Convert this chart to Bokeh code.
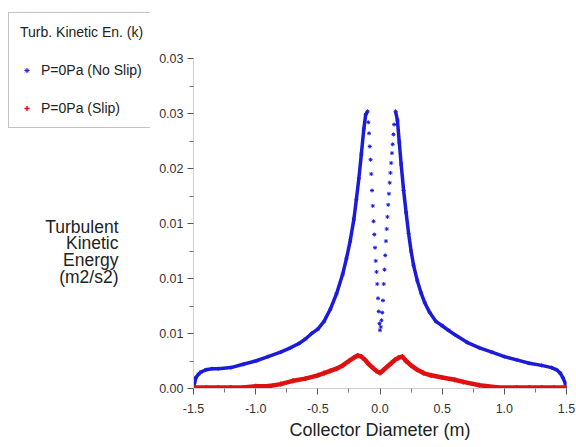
from bokeh.plotting import figure
from bokeh.layouts import row
from bokeh.models import FixedTicker, Legend, LegendItem, Label, Range1d
from bokeh.embed import file_html
from bokeh.resources import INLINE

# ---------------- data ----------------
x_ticks = [-1.5, -1.0, -0.5, 0.0, 0.5, 1.0, 1.5]
x_tick_labels = ["-1.5", "-1.0", "-0.5", "0.0", "0.5", "1.0", "1.5"]
y_ticks = [0.0, 0.005, 0.01, 0.015, 0.02, 0.025, 0.03]
y_tick_labels = ["0.00", "0.01", "0.01", "0.01", "0.02", "0.03", "0.03"]

# No slip (blue): outer left branch, inner dip, outer right branch
noslip_left_x = [-1.5, -1.49, -1.48, -1.46, -1.44, -1.40, -1.35, -1.30, -1.2, -1.1, -1.0,
                 -0.9, -0.8, -0.72, -0.65, -0.6, -0.55, -0.5, -0.45, -0.40, -0.35, -0.30,
                 -0.27, -0.24, -0.21, -0.19, -0.17, -0.15, -0.13, -0.115, -0.10]
noslip_left_y = [0.0, 0.0006, 0.0010, 0.0013, 0.0015, 0.0017, 0.0018, 0.0018, 0.0019, 0.0022, 0.0025,
                 0.0029, 0.0033, 0.0037, 0.0041, 0.0045, 0.0050, 0.0054, 0.0061, 0.0072, 0.0086, 0.0104,
                 0.0118, 0.0134, 0.0154, 0.0172, 0.0191, 0.0213, 0.0236, 0.0249, 0.0252]
noslip_inner_x = [-0.094, -0.088, -0.082, -0.076, -0.070, -0.064, -0.058, -0.052, -0.046, -0.040,
                  -0.034, -0.028, -0.022, -0.016, -0.010, -0.004, 0.0, 0.006, 0.012, 0.018, 0.024,
                  0.030, 0.036, 0.042, 0.048, 0.054, 0.060, 0.066, 0.072, 0.078, 0.084, 0.090,
                  0.096, 0.102, 0.108, 0.114]
noslip_inner_y = [0.0242, 0.0232, 0.0220, 0.0208, 0.0195, 0.0180, 0.0166, 0.0152, 0.0140, 0.0128,
                  0.0116, 0.0106, 0.0095, 0.0082, 0.0070, 0.0059, 0.0053, 0.0056, 0.0062, 0.0069, 0.0080,
                  0.0095, 0.0108, 0.0121, 0.0134, 0.0145, 0.0156, 0.0167, 0.0177, 0.0187, 0.0196, 0.0205,
                  0.0214, 0.0222, 0.0231, 0.0240]
noslip_right_x = [0.125, 0.14, 0.155, 0.17, 0.19, 0.21, 0.23, 0.25, 0.27, 0.30, 0.33, 0.36, 0.40,
                  0.45, 0.50, 0.55, 0.60, 0.70, 0.80, 0.90, 1.0, 1.1, 1.2, 1.3, 1.38, 1.42, 1.45,
                  1.47, 1.49, 1.5]
noslip_right_y = [0.0252, 0.0244, 0.0224, 0.0204, 0.0180, 0.0160, 0.0141, 0.0125, 0.0112, 0.0098,
                  0.0087, 0.0078, 0.0069, 0.0061, 0.0057, 0.0053, 0.0049, 0.0042, 0.0037, 0.0033,
                  0.0029, 0.0026, 0.0023, 0.0021, 0.0019, 0.0017, 0.0014, 0.0010, 0.0005, 0.0]

# Slip (red)
slip_x = [-1.5, -1.4, -1.3, -1.2, -1.1, -1.0, -0.9, -0.8, -0.7, -0.6, -0.5, -0.45, -0.4, -0.35,
          -0.3, -0.25, -0.21, -0.18, -0.15, -0.12, -0.09, -0.06, -0.03, 0.0, 0.03, 0.06, 0.09,
          0.12, 0.15, 0.18, 0.21, 0.25, 0.30, 0.35, 0.41, 0.5, 0.6, 0.67, 0.8, 0.95, 1.1, 1.2,
          1.3, 1.4, 1.5]
slip_y = [0.0001, 0.0001, 0.0001, 0.0001, 0.0001, 0.0002, 0.0002, 0.0004, 0.0007, 0.0009, 0.0012,
          0.0014, 0.0016, 0.0018, 0.0021, 0.0025, 0.0028, 0.0030, 0.0029, 0.0026, 0.0022, 0.0019,
          0.0016, 0.0014, 0.0017, 0.0020, 0.0023, 0.0026, 0.0028, 0.0029, 0.0025, 0.0021, 0.0017,
          0.0014, 0.0012, 0.0010, 0.0008, 0.0006, 0.0003, 0.0001, 0.0001, 0.0001, 0.0001, 0.0001,
          0.0001]

legend_title = "Turb. Kinetic En. (k)"
series_names = ["P=0Pa (No Slip)", "P=0Pa (Slip)"]
y_title_lines = ["Turbulent", "Kinetic", "Energy", "(m2/s2)"]
x_title = "Collector Diameter (m)"

BLUE = "#1c1cd8"
RED = "#e01010"
FONT = "Liberation Sans"
TXT = "#222222"

LEFT_W = 150
H = 447

# ---------------- main figure ----------------
p = figure(width=576 - LEFT_W, height=H, output_backend="svg", toolbar_location=None,
           x_range=Range1d(-1.5, 1.5), y_range=Range1d(0, 0.03),
           min_border_left=193 - LEFT_W, min_border_right=10, min_border_top=58, min_border_bottom=59)
p.outline_line_color = None
p.grid.visible = False

# blue
p.line(noslip_left_x, noslip_left_y, line_color=BLUE, line_width=3.5)
p.line(noslip_right_x, noslip_right_y, line_color=BLUE, line_width=3.5)
all_bx = noslip_left_x + noslip_inner_x + noslip_right_x
all_by = noslip_left_y + noslip_inner_y + noslip_right_y
p.scatter(all_bx, all_by, marker="asterisk", size=4, line_color=BLUE, line_width=1)

# red
p.line(slip_x, slip_y, line_color=RED, line_width=4.5)
p.scatter(slip_x, slip_y, marker="cross", size=5, line_color=RED, line_width=1.5)

# axes
xa = p.xaxis[0]
xa.ticker = FixedTicker(ticks=x_ticks, minor_ticks=[-1.25, -0.75, -0.25, 0.25, 0.75, 1.25])
xa.major_label_overrides = {t: s for t, s in zip(x_ticks, x_tick_labels)}
ya = p.yaxis[0]
ya.ticker = FixedTicker(ticks=y_ticks, minor_ticks=[0.0025, 0.0075, 0.0125, 0.0175, 0.0225, 0.0275])
ya.major_label_overrides = {t: s for t, s in zip(y_ticks, y_tick_labels)}

for ax in (xa, ya):
    ax.axis_line_color = "#cfcfcf"
    ax.axis_line_width = 1
    ax.major_tick_line_color = "#555555"
    ax.minor_tick_line_color = "#777777"
    ax.major_tick_in = 0
    ax.major_tick_out = 6
    ax.minor_tick_in = 0
    ax.minor_tick_out = 4
    ax.major_label_text_font = FONT
    ax.major_label_text_font_size = "12.5px"
    ax.major_label_text_color = "#333333"

xa.major_label_standoff = 9
xa.axis_label = x_title
xa.axis_label_text_font = FONT
xa.axis_label_text_font_size = "18px"
xa.axis_label_text_font_style = "normal"
xa.axis_label_text_color = TXT
xa.axis_label_standoff = 4
ya.major_label_standoff = 4

# ---------------- left side: legend and y title ----------------
q = figure(width=LEFT_W, height=H, output_backend="svg", toolbar_location=None,
           x_axis_type=None, y_axis_type=None, x_range=Range1d(0, LEFT_W), y_range=Range1d(0, H),
           min_border=0, min_border_left=0, min_border_right=0, min_border_top=0, min_border_bottom=0)
q.outline_line_color = None
q.grid.visible = False
try:
    q.frame_align = False
    p.frame_align = False
except Exception:
    pass

# legend proxies: first data point of each series, mapped onto a range that keeps them out of view
q.extra_y_ranges = {"off": Range1d(1, 2)}
lg_blue = q.scatter(noslip_left_x[:1], noslip_left_y[:1], y_range_name="off",
                    marker="asterisk", size=5, line_color=BLUE, line_width=1)
lg_red = q.scatter(slip_x[:1], slip_y[:1], y_range_name="off",
                   marker="cross", size=5, line_color=RED, line_width=1.5)

for i, line in enumerate(y_title_lines):
    q.add_layout(Label(x=118, y=H - 226 - i * 16.8, x_units="screen", y_units="screen",
                       text=line, text_align="right", text_baseline="alphabetic",
                       text_font=FONT, text_font_size="17.5px", text_color=TXT))

legend = Legend(items=[LegendItem(label=series_names[0], renderers=[lg_blue]),
                       LegendItem(label=series_names[1], renderers=[lg_red])],
                location=(8, H - 128), title=legend_title,
                title_text_font=FONT, title_text_font_size="14px", title_text_font_style="normal",
                title_text_color=TXT, title_standoff=22,
                label_text_font=FONT, label_text_font_size="14px", label_text_color=TXT,
                label_standoff=8, label_height=16, glyph_height=16, glyph_width=13,
                spacing=22, padding=11, margin=0,
                border_line_color="#888888", border_line_width=1,
                background_fill_color="white", background_fill_alpha=1)
q.add_layout(legend, "center")

layout = row(q, p, spacing=0)
open("out.html", "w").write(file_html(layout, INLINE))
